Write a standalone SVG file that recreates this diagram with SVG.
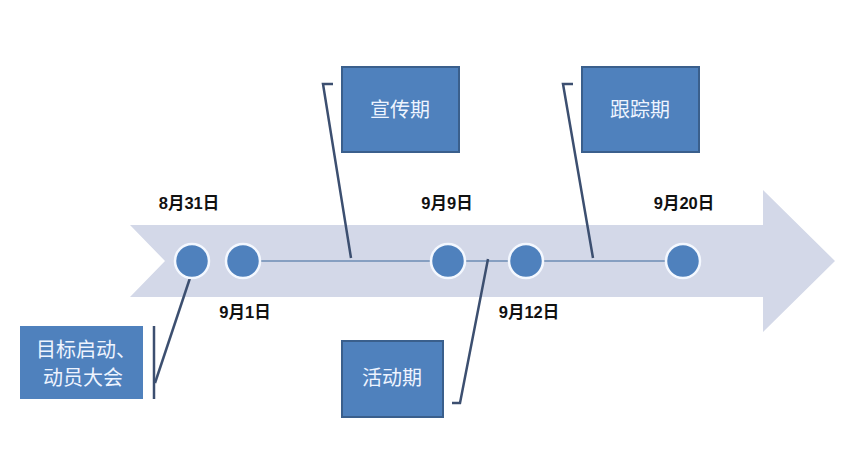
<svg xmlns="http://www.w3.org/2000/svg" width="867" height="455" viewBox="0 0 867 455">
<style>
.box{fill:#4f81bd;stroke:#3a5f8c;stroke-width:2}
.bt{font-family:"Noto Sans CJK SC","Noto Sans",sans-serif;font-size:20px;fill:#eef4ff;text-anchor:middle}
.dt{font-family:"Liberation Sans","Noto Sans CJK SC",sans-serif;font-size:16.5px;font-weight:bold;fill:#111;text-anchor:middle}
.dot{fill:#4f81bd;stroke:#f4f8ff;stroke-width:2.5}
.cl{fill:none;stroke:#3c4f70;stroke-width:2.5}
</style>
<rect width="867" height="455" fill="#fff"/>
<g id="arrow">
<polygon points="130,225 763,225 763,190 835,261 763,332 763,297 130,297 165,261" fill="#d3d8e8"/>
</g>
<g id="connectors">
<line x1="243" y1="261" x2="683" y2="261" stroke="#6d8cb5" stroke-width="1.3"/>
<polyline class="cl" points="333,84 323,84 351,258"/>
<polyline class="cl" points="573,84 563,84 593,258"/>
<polyline class="cl" points="452,403 460,403 488,259"/>
<line class="cl" x1="154" y1="326" x2="154" y2="399"/>
<line class="cl" x1="155" y1="383" x2="190" y2="278"/>
</g>
<g id="dot1"><circle class="dot" cx="192" cy="261" r="17"/></g>
<g id="dot2"><circle class="dot" cx="243" cy="261" r="17"/></g>
<g id="dot3"><circle class="dot" cx="448" cy="261" r="17"/></g>
<g id="dot4"><circle class="dot" cx="526" cy="261" r="17"/></g>
<g id="dot5"><circle class="dot" cx="683" cy="261" r="17"/></g>
<g id="labels">
<text class="dt" x="189" y="209">8月31日</text>
<text class="dt" x="245" y="318">9月1日</text>
<text class="dt" x="447" y="209">9月9日</text>
<text class="dt" x="529" y="318">9月12日</text>
<text class="dt" x="684" y="209">9月20日</text>
</g>
<g id="box-xuanchuan"><rect class="box" x="342" y="67" width="117" height="85"/><text class="bt" x="400" y="117">宣传期</text></g>
<g id="box-genzong"><rect class="box" x="582" y="67" width="117" height="85"/><text class="bt" x="640" y="117">跟踪期</text></g>
<g id="box-huodong"><rect class="box" x="342" y="341" width="101" height="76"/><text class="bt" x="392" y="385">活动期</text></g>
<g id="box-qidong"><rect class="box" x="20" y="326" width="123" height="73" style="stroke:none"/><text class="bt" x="86" y="357">目标启动、</text><text class="bt" x="83" y="385">动员大会</text></g>
</svg>
